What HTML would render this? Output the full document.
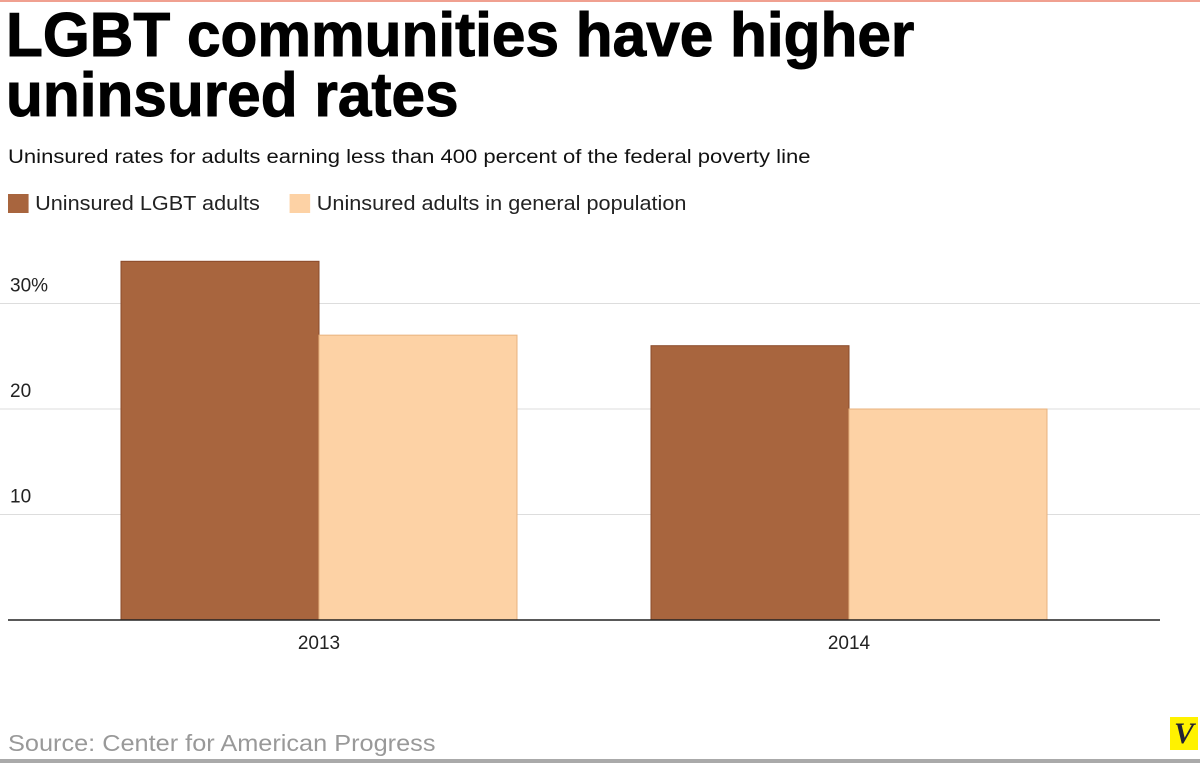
<!DOCTYPE html>
<html><head><meta charset="utf-8"><style>
body{margin:0;width:1200px;height:763px;background:#fff;overflow:hidden;position:relative;font-family:"Liberation Sans",sans-serif}
.t{position:absolute;left:6px;font-weight:bold;font-size:62px;line-height:60px;color:#000;letter-spacing:0px;transform-origin:0 0;transform:scaleX(0.973);white-space:nowrap;-webkit-text-stroke:1px #000}
</style></head><body>
<div style="position:absolute;left:0;top:0;width:1200px;height:2px;background:#f0a090"></div>
<div class="t" style="top:6px">LGBT communities have higher<br>uninsured rates</div>
<div style="position:absolute;left:8px;top:147px;font-size:19px;color:#111;white-space:nowrap;transform-origin:0 0;transform:scaleX(1.16)">Uninsured rates for adults earning less than 400 percent of the federal poverty line</div>
<div style="position:absolute;left:8px;top:193px;font-size:20px;color:#222;white-space:nowrap;transform-origin:0 0;transform:scaleX(1.083)">
<span><span style="display:inline-block;width:19px;height:19px;background:#a8653e;vertical-align:-3px;margin-right:6px"></span>Uninsured LGBT adults</span>
<span style="margin-left:22px"><span style="display:inline-block;width:19px;height:19px;background:#fdd2a5;vertical-align:-3px;margin-right:6px"></span>Uninsured adults in general population</span>
</div>
<svg id="chart" width="1200" height="763" style="position:absolute;left:0;top:0"></svg>
<div style="position:absolute;left:8px;top:730px;font-size:23px;color:#999;white-space:nowrap;transform-origin:0 0;transform:scaleX(1.1)">Source: Center for American Progress</div>
<div style="position:absolute;left:1170px;top:717px;width:28px;height:33px;background:#fff200;color:#223;font:italic bold 30px 'Liberation Serif',serif;text-align:center;line-height:34px">V</div>
<div style="position:absolute;left:0;top:759px;width:1200px;height:4px;background:#aaa"></div>
<script>
const categories=["2013","2014"];
const lgbt=[34,26];
const general=[27,20];
const ticks=[10,20,30];
const tickLabels=["10","20","30%"];
const svg=document.getElementById('chart');
const NS="http://www.w3.org/2000/svg";
const y0=620,pxPer=10.55;
const y=v=>y0-v*pxPer;
const x=i=>319+i*530;
function mk(t,a){const e=document.createElementNS(NS,t);for(const k in a)e.setAttribute(k,a[k]);svg.appendChild(e);return e;}
ticks.forEach((t,i)=>{
 const l=mk('line',{x1:0,x2:1200,y1:y(t),y2:y(t),stroke:'#ddd','stroke-width':1});
 
 
 const tx=mk('text',{x:10,y:y(t)-12,'font-size':19,fill:'#222','font-family':'Liberation Sans, sans-serif'});
 tx.textContent=tickLabels[i];
 
 
});
categories.forEach((c,i)=>{
 const b1=mk('rect',{x:x(i)-198,y:y(lgbt[i]),width:198,height:y0-y(lgbt[i]),fill:'#a8653e',stroke:'#8a4a2a','stroke-width':1});
 
 
 const b2=mk('rect',{x:x(i),y:y(general[i]),width:198,height:y0-y(general[i]),fill:'#fdd2a5',stroke:'#e8b37f','stroke-width':1});
 
 
 const tx=mk('text',{x:x(i),y:649,'font-size':19,fill:'#222','text-anchor':'middle','font-family':'Liberation Sans, sans-serif'});
 tx.textContent=c;
 
 
});
const ax=mk('line',{x1:8,x2:1160,y1:y0,y2:y0,stroke:'#222','stroke-width':1.5});


</script>
</body></html>
